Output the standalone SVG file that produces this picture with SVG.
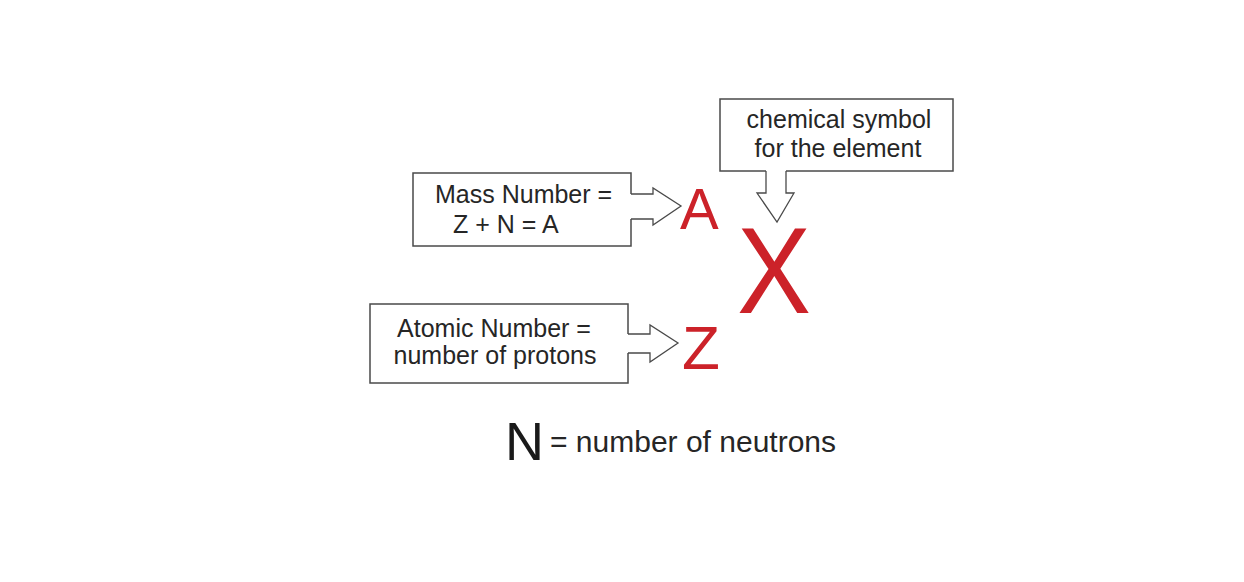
<svg xmlns="http://www.w3.org/2000/svg" width="1244" height="582" viewBox="0 0 1244 582">
  <style>
    .box { fill: #ffffff; stroke: #4a4a4a; stroke-width: 1.5; }
    .arrowFill { fill: #ffffff; stroke: none; }
    .arrowLine { fill: none; stroke: #4a4a4a; stroke-width: 1.3; stroke-linejoin: miter; }
    .lbl { font-family: "Liberation Sans", Arial, sans-serif; font-size: 25px; fill: #262626; }
    .sym { font-family: "Liberation Sans", Arial, sans-serif; fill: #cc2229; }
    .neu { font-family: "Liberation Sans", Arial, sans-serif; fill: #1a1a1a; }
  </style>
  <rect x="0" y="0" width="1244" height="582" fill="#ffffff"/>

  <g id="mass-number">
    <rect class="box" x="413" y="173" width="218" height="73"/>
    <text class="lbl" x="435" y="203">Mass Number =</text>
    <text class="lbl" x="453" y="233">Z + N = A</text>
  </g>

  <g id="atomic-number">
    <rect class="box" x="370" y="304" width="258" height="79"/>
    <text class="lbl" x="494" y="337" text-anchor="middle">Atomic Number =</text>
    <text class="lbl" x="495" y="364" text-anchor="middle">number of protons</text>
  </g>

  <g id="chemical-symbol">
    <rect class="box" x="720" y="99" width="233" height="72"/>
    <text class="lbl" x="839" y="128" text-anchor="middle">chemical symbol</text>
    <text class="lbl" x="838" y="157" text-anchor="middle">for the element</text>
  </g>

  <g id="symbol-A">
    <text class="sym" x="680" y="229" font-size="58">A</text>
  </g>
  <g id="symbol-Z">
    <text class="sym" x="682" y="369" font-size="62">Z</text>
  </g>
  <g id="symbol-X">
    <text class="sym" x="737" y="313" font-size="122" textLength="74" lengthAdjust="spacingAndGlyphs">X</text>
  </g>

  <g id="neutrons">
    <text class="neu" x="505" y="460" font-size="54">N</text>
    <text class="lbl" x="550" y="452" font-size="30" style="font-size:30px">= number of neutrons</text>
  </g>

  <g id="connectors">
    <path class="arrowFill" d="M628,194 L653,194 L653,188 L681,206 L653,225 L653,219 L628,219 Z"/>
    <path class="arrowLine" d="M631,194 L653,194 L653,188 L681,206 L653,225 L653,219 L631,219"/>

    <path class="arrowFill" d="M625,334 L650,334 L650,325 L678,343 L650,362 L650,353 L625,353 Z"/>
    <path class="arrowLine" d="M628,334 L650,334 L650,325 L678,343 L650,362 L650,353 L628,353"/>

    <path class="arrowFill" d="M766,168 L766,193 L757,193 L777,222 L794,193 L786,193 L786,168 Z"/>
    <path class="arrowLine" d="M766,171 L766,193 L757,193 L777,222 L794,193 L786,193 L786,171"/>
  </g>
</svg>
